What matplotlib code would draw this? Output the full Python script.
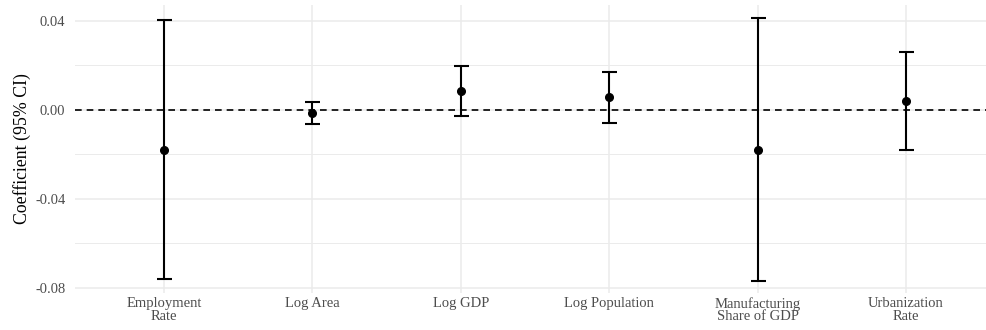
import matplotlib.pyplot as plt
from matplotlib.ticker import MultipleLocator
import numpy as np

# coefficient estimates with 95% CI
terms = ["Employment\nRate", "Log Area", "Log GDP", "Log Population",
         "Manufacturing\nShare of GDP", "Urbanization\nRate"]
estimate = [-0.0181, -0.0015, 0.0085, 0.0056, -0.0181, 0.0040]
ci_low = [-0.0762, -0.0063, -0.0028, -0.0061, -0.0770, -0.0181]
ci_high = [0.0402, 0.0036, 0.0198, 0.0171, 0.0411, 0.0261]

plt.rcParams['font.family'] = ['Liberation Serif', 'DejaVu Serif']

fig = plt.figure(figsize=(9.86, 3.30), dpi=100)
ax = fig.add_axes([75 / 986, 1 - 293 / 330, 1 - 75 / 986, 288 / 330])

x = np.arange(1, len(terms) + 1)
est = np.array(estimate)
yerr = [est - np.array(ci_low), np.array(ci_high) - est]

ax.axhline(0, color="black", lw=1.2, ls=(0, (4, 3)), zorder=2)
ax.errorbar(x, est, yerr=yerr, fmt="o", color="black", ms=5.5,
            elinewidth=1.5, capsize=5.4, capthick=1.5, zorder=3)

ax.set_xlim(0.4, 6 + 80 / 148.4)
ax.set_ylim(-0.0824, 0.0471)
ax.set_xticks(x)
ax.set_xticklabels(terms, linespacing=0.95)
ax.yaxis.set_major_locator(MultipleLocator(0.04))
ax.yaxis.set_minor_locator(MultipleLocator(0.02))
ax.set_yticklabels([f"{v:.2f}" for v in ax.get_yticks()])

ax.grid(which="major", color="#ebebeb", lw=1.1, zorder=0)
ax.grid(which="minor", axis="y", color="#ebebeb", lw=0.7, zorder=0)
ax.set_axisbelow(True)
for s in ax.spines.values():
    s.set_visible(False)
ax.tick_params(which="both", length=0, colors="#4d4d4d", labelsize=10.5)
ax.tick_params(axis="y", pad=7)
ax.tick_params(axis="x", pad=3)

ax.set_ylabel("Coefficient (95% CI)", fontsize=12.8, labelpad=3)

fig.savefig("out.png", dpi=100)
